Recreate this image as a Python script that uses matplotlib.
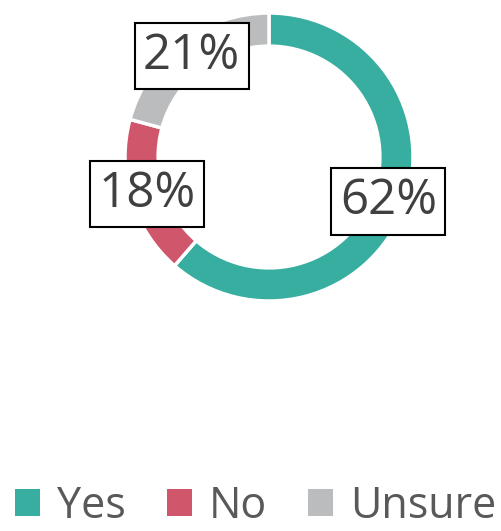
import matplotlib
matplotlib.use("Agg")
import matplotlib.pyplot as plt
from matplotlib.patches import Patch
import numpy as np

categories = ["Yes", "No", "Unsure"]
values = [62, 18, 21]
labels = ["62%", "18%", "21%"]
colors = ["#37AE9F", "#D0576B", "#BBBCBE"]

plt.rcParams['font.family'] = ['Open Sans', 'DejaVu Sans']

W, H = 502, 531
fig = plt.figure(figsize=(W / 100, H / 100), dpi=100)
cx, cy, r = 269, 157, 144
ax = fig.add_axes([(cx - r) / W, (H - cy - r) / H, 2 * r / W, 2 * r / H])
wedges, _ = ax.pie(values, colors=colors, startangle=90, counterclock=False,
                   radius=1.0, wedgeprops=dict(width=0.23, edgecolor="white", linewidth=2.5))
ax.set_xlim(-1, 1)
ax.set_ylim(-1, 1)
ax.set_aspect("equal")
ax.axis("off")

total = sum(values)
ang = 90.0
for v, lab in zip(values, labels):
    sweep = v / total * 360
    mid = np.deg2rad(ang - sweep / 2)
    ang -= sweep
    rr = 0.885
    ax.text(rr * np.cos(mid), rr * np.sin(mid), lab, ha="center", va="center",
            fontsize=35.5, color="#404040",
            bbox=dict(boxstyle="square,pad=0.17", facecolor="white", edgecolor="black", linewidth=1.5))

handles = [Patch(facecolor=c, edgecolor="none") for c in colors]
fig.legend(handles, categories, loc="center", bbox_to_anchor=(0.51, 0.046), ncol=3,
           frameon=False, fontsize=31, labelcolor="#595959",
           handlelength=0.58, handleheight=0.58, handletextpad=0.4, columnspacing=0.95,
           borderpad=0, borderaxespad=0)

fig.savefig("out.png", dpi=100)
